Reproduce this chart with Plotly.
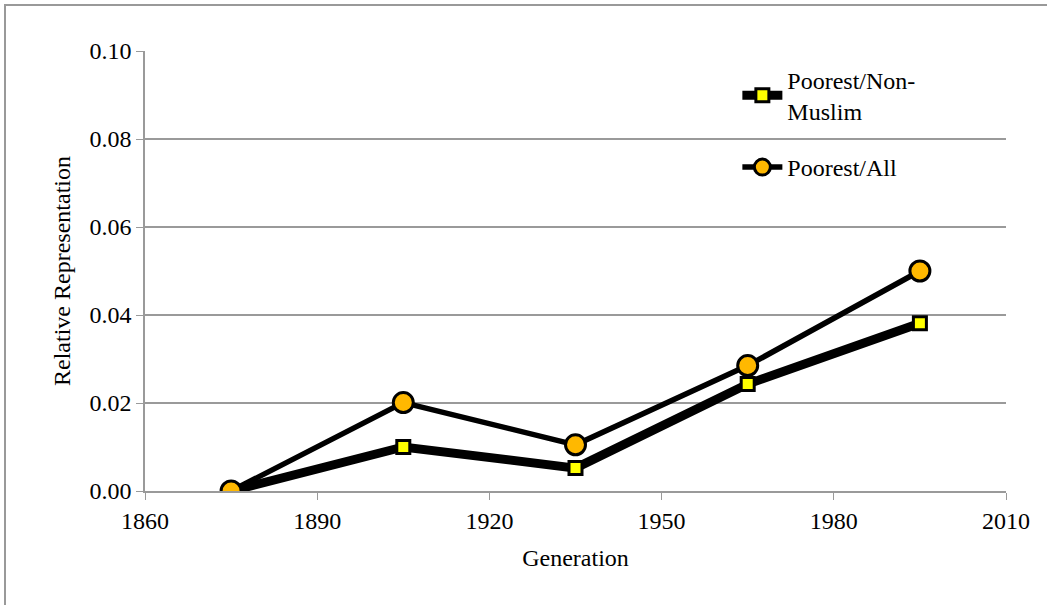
import plotly.graph_objects as go

generation = [1875, 1905, 1935, 1965, 1995]
poorest_non_muslim = [0.0, 0.0100, 0.0052, 0.0243, 0.0381]
poorest_all = [0.0, 0.0201, 0.0105, 0.0285, 0.0500]
x_ticks = [1860, 1890, 1920, 1950, 1980, 2010]
y_ticks = [0.00, 0.02, 0.04, 0.06, 0.08, 0.10]

FONT = "Liberation Serif, Times New Roman, serif"
GRID = "#9a9a9a"
FS = 24

fig = go.Figure()
fig.add_trace(go.Scatter(
    x=generation, y=poorest_non_muslim, mode="lines+markers",
    name="Poorest/Non-<br>Muslim", legendgroup="a",
    line=dict(color="black", width=9),
    marker=dict(symbol="square", size=13, color="#FFFF00",
                line=dict(color="black", width=3)),
))
fig.add_trace(go.Scatter(
    x=generation, y=poorest_all, mode="lines+markers",
    name="Poorest/All", legendgroup="b",
    line=dict(color="black", width=5.5),
    marker=dict(symbol="circle", size=20, color="#FFB800",
                line=dict(color="black", width=3)),
))

fig.update_layout(
    width=1047, height=605,
    margin=dict(l=145, r=41, t=51, b=114),
    paper_bgcolor="white", plot_bgcolor="white",
    font=dict(family=FONT, size=FS, color="black"),
    showlegend=True,
    legend=dict(x=0.688, y=0.985, xanchor="left", yanchor="top",
                bgcolor="rgba(0,0,0,0)", font=dict(family=FONT, size=FS),
                tracegroupgap=22, itemwidth=40),
    xaxis=dict(range=[1860, 2010], tickvals=x_ticks, ticks="outside",
               ticklen=7, tickcolor=GRID, showline=True, linecolor=GRID,
               linewidth=1.5, showgrid=False, zeroline=False,
               title=dict(text="Generation", font=dict(family=FONT, size=FS), standoff=17),
               tickfont=dict(family=FONT, size=FS)),
    yaxis=dict(range=[0, 0.10], tickvals=y_ticks, tickformat=".2f",
               ticks="outside", ticklen=7, tickcolor=GRID, showline=True,
               linecolor=GRID, linewidth=1.5, showgrid=True, gridcolor=GRID,
               gridwidth=1.5, zeroline=False,
               title=dict(text="Relative Representation", font=dict(family=FONT, size=FS), standoff=12),
               tickfont=dict(family=FONT, size=FS)),
    shapes=[dict(type="rect", xref="paper", yref="paper",
                 x0=-0.1626, x1=1.08, y0=-0.3, y1=1.1045,
                 line=dict(color="#999999", width=2), layer="below")],
)

fig.write_html("out.html", config={"displayModeBar": False},
               post_script="document.body.style.margin='0';document.body.style.padding='0';")
